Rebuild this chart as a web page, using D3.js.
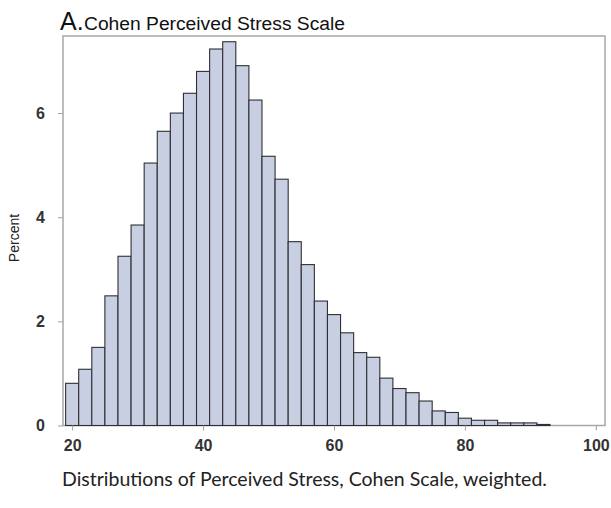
<!DOCTYPE html>
<html>
<head>
<meta charset="utf-8">
<script src="https://cdn.jsdelivr.net/npm/d3@7"></script>
<style>
    body { margin: 0; background: white; }
    text { font-family: "Liberation Sans", Arial, sans-serif; }
</style>
</head>
<body>
<svg id="chart"></svg>
<script>
// bin centres (width 2) and percent per bin
const binCenters = [20, 22, 24, 26, 28, 30, 32, 34, 36, 38, 40, 42, 44, 46, 48, 50, 52, 54, 56, 58,
    60, 62, 64, 66, 68, 70, 72, 74, 76, 78, 80, 82, 84, 86, 88, 90, 92];
const percents = [0.81, 1.08, 1.50, 2.49, 3.25, 3.85, 5.04, 5.65, 6.00, 6.38, 6.80, 7.23, 7.37, 6.91, 6.25, 5.17, 4.73, 3.53, 3.09, 2.39,
    2.13, 1.78, 1.40, 1.31, 0.91, 0.71, 0.63, 0.47, 0.28, 0.25, 0.14, 0.10, 0.10, 0.05, 0.05, 0.05, 0.02];
const xTicks = [20, 40, 60, 80, 100];
const yTicks = [0, 2, 4, 6];

const svg = d3.select("#chart");
const width = 611, height = 508;
svg.attr("width", width).attr("height", height);

const plot = { left: 63, right: 605, top: 36, bottom: 425.5 };

const x = d3.scaleLinear().domain([18.6, 101.4]).range([plot.left, plot.right]);
const y = d3.scaleLinear().domain([0, 7.48]).range([plot.bottom, plot.top]);

// frame
svg.append("rect")
    .attr("x", plot.left).attr("y", plot.top)
    .attr("width", plot.right - plot.left)
    .attr("height", plot.bottom - plot.top)
    .attr("fill", "white")
    .attr("stroke", "#a8a8a8")
    .attr("stroke-width", 1.5);

// bars
svg.selectAll(".bar")
    .data(binCenters.map((c, i) => ({ c, p: percents[i] })))
    .enter()
    .append("rect")
    .attr("class", "bar")
    .attr("x", d => x(d.c - 1))
    .attr("width", d => x(d.c + 1) - x(d.c - 1))
    .attr("y", d => y(d.p))
    .attr("height", d => y(0) - y(d.p))
    .attr("fill", "#c8cfe2")
    .attr("stroke", "#2e3034")
    .attr("stroke-width", 1.1);

// axes
const xAxis = d3.axisBottom(x).tickValues(xTicks).tickSize(5).tickPadding(9);
const gx = svg.append("g")
    .attr("transform", `translate(0, ${plot.bottom})`)
    .call(xAxis);
gx.select(".domain").remove();
gx.selectAll(".tick line").attr("stroke", "#a0a0a0");
gx.selectAll(".tick text")
    .style("font-size", "16px").style("font-weight", "bold").attr("fill", "#333");

const yAxis = d3.axisLeft(y).tickValues(yTicks).tickSize(5).tickPadding(13);
const gy = svg.append("g")
    .attr("transform", `translate(${plot.left}, 0)`)
    .call(yAxis);
gy.select(".domain").remove();
gy.selectAll(".tick line").attr("stroke", "#a0a0a0");
gy.selectAll(".tick text")
    .style("font-size", "16px").style("font-weight", "bold").attr("fill", "#333");

// y label
svg.append("text")
    .attr("transform", `translate(19, 238) rotate(-90)`)
    .attr("text-anchor", "middle")
    .style("font-size", "14px")
    .attr("fill", "#222")
    .text("Percent");

// title
svg.append("text")
    .attr("x", 60).attr("y", 30)
    .style("font-size", "25px")
    .attr("fill", "#111")
    .text("A.");
svg.append("text")
    .attr("x", 84).attr("y", 30)
    .style("font-size", "18px")
    .attr("textLength", 261)
    .attr("lengthAdjust", "spacingAndGlyphs")
    .attr("fill", "#111")
    .text("Cohen Perceived Stress Scale");

// caption
svg.append("text")
    .attr("x", 62).attr("y", 486)
    .style("font-size", "19.5px")
    .style("font-family", "Lato, 'Noto Sans', sans-serif")
    .attr("fill", "#222")
    .text("Distributions of Perceived Stress, Cohen Scale, weighted.");
</script>
</body>
</html>
